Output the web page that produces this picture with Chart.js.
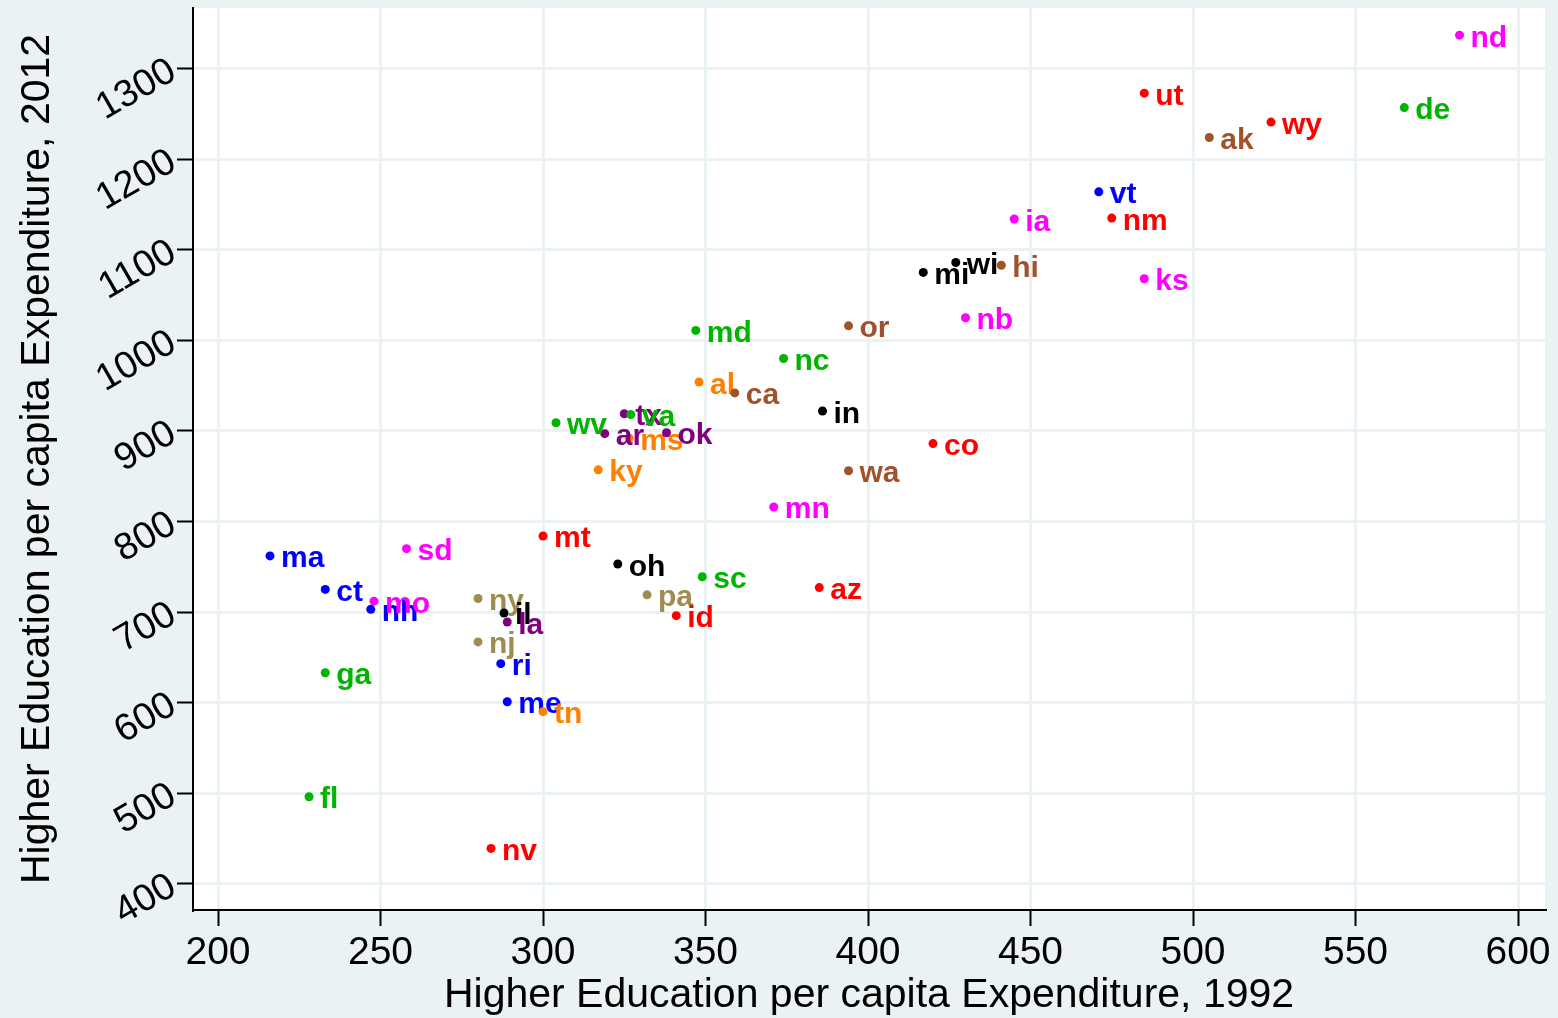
<!DOCTYPE html>
<html>
<head>
<meta charset="utf-8">
<script src="https://cdn.jsdelivr.net/npm/chart.js@4.4.0/dist/chart.umd.min.js"></script>
<style>
  html, body { margin: 0; padding: 0; background: #EAF2F3; }
  #wrap { width: 1558px; height: 1018px; }
</style>
</head>
<body>
<div id="wrap"><canvas id="c" width="1558" height="1018"></canvas></div>
<script>
// State abbreviations, per-capita higher education spending in 1992 and 2012,
// and census division (index into divisionNames / divisionColors).
const states = ['ak','al','ar','az','ca','co','ct','de','fl','ga',
                'hi','ia','id','il','in','ks','ky','la','ma','md',
                'me','mi','mn','mo','ms','mt','nc','nd','nb','nh',
                'nj','nm','nv','ny','oh','ok','or','pa','ri','sc',
                'sd','tn','tx','ut','va','vt','wa','wi','wv','wy'];
const spend1992 = [505,348,319,385,359,420,233,565,228,233,
                   441,445,341,288,386,485,317,289,216,347,
                   289,417,371,248,326.5,300,374,582,430,247,
                   280,475,284,280,323,338,394,332,287,349,
                   258,300,325,485,327,471,394,427,304,524];
const spend2012 = [1224,954,897,727,942,886,725,1257,496,633,
                   1083,1134,696,699,922,1068,857,689,762,1011,
                   601,1075,816,712,892,784,980,1337,1025,703,
                   667,1135,439,715,753,898,1016,719,643,739,
                   770,590,919,1273,918,1164,856,1086,909,1241];
const division  = [8,5,6,7,8,7,0,4,4,4,
                   8,3,7,2,2,3,5,6,0,4,
                   0,2,3,3,5,7,4,3,3,0,
                   1,7,7,1,2,6,8,1,0,4,
                   3,5,6,7,4,0,8,2,4,7];

const divisionNames  = ['New England','Middle Atlantic','East North Central','West North Central',
                        'South Atlantic','East South Central','West South Central','Mountain','Pacific'];
const divisionColors = ['#0000FF','#A08C50','#000000','#FF00FF',
                        '#00B400','#FF8000','#800080','#FF0000','#A0522D'];
// divisions are layered in this sequence (later ones on top)
const drawSequence = [0,1,2,3,5,6,4,7,8];

const xTicks = [200,250,300,350,400,450,500,550,600];
const xTickLabels = ['200','250','300','350','400','450','500','550','600'];
const yTicks = [400,500,600,700,800,900,1000,1100,1200,1300];
const yTickLabels = ['400','500','600','700','800','900','1000','1100','1200','1300'];

const xTitle = 'Higher Education per capita Expenditure, 1992';
const yTitle = 'Higher Education per capita Expenditure, 2012';

const FONT = '"Liberation Sans", Arial, Helvetica, sans-serif';

const datasets = drawSequence.map((d, k) => {
  const idx = states.map((s, i) => i).filter(i => division[i] === d);
  return {
    label: divisionNames[d],
    data: idx.map(i => ({ x: spend1992[i], y: spend2012[i] })),
    names: idx.map(i => states[i]),
    backgroundColor: divisionColors[d],
    borderWidth: 0,
    pointRadius: 4.5,
    order: drawSequence.length - k
  };
});

const backdrop = {
  id: 'backdrop',
  beforeDraw(chart) {
    const { ctx, chartArea: a } = chart;
    ctx.save();
    ctx.fillStyle = '#EAF2F3';
    ctx.fillRect(0, 0, chart.width, chart.height);
    ctx.fillStyle = '#FFFFFF';
    ctx.fillRect(a.left, a.top, a.right - a.left, a.bottom - a.top);
    ctx.restore();
  }
};

// marker labels drawn right after each dataset's markers
const stateLabels = {
  id: 'stateLabels',
  afterDatasetDraw(chart, args) {
    const ds = chart.data.datasets[args.index];
    const ctx = chart.ctx;
    ctx.save();
    ctx.font = 'bold 30px ' + FONT;
    ctx.fillStyle = ds.backgroundColor;
    ctx.textAlign = 'left';
    ctx.textBaseline = 'alphabetic';
    args.meta.data.forEach((pt, i) => {
      ctx.fillText(ds.names[i], pt.x + 11, pt.y + 11.5);
    });
    ctx.restore();
  }
};

function noEdgePadding(s) {
  s.paddingTop = 0; s.paddingBottom = 0; s.paddingLeft = 0; s.paddingRight = 0;
}

new Chart(document.getElementById('c'), {
  type: 'scatter',
  data: { datasets },
  plugins: [backdrop, stateLabels],
  options: {
    responsive: false,
    devicePixelRatio: 1,
    animation: false,
    events: [],
    layout: { padding: { top: 8, right: 13, left: 0, bottom: 0 } },
    plugins: { legend: { display: false }, tooltip: { enabled: false } },
    scales: {
      x: {
        type: 'linear',
        min: 192.3, max: 608.3,
        afterBuildTicks: s => { s.ticks = xTicks.map(v => ({ value: v })); },
        afterFit: s => { s.height = 108; noEdgePadding(s); },
        ticks: {
          autoSkip: false, maxRotation: 0, minRotation: 0,
          color: '#000', padding: 4,
          font: { family: FONT, size: 39 },
          callback: (v, i) => xTickLabels[i]
        },
        grid: { color: '#EAF2F3', lineWidth: 3, tickColor: '#000', tickWidth: 2, tickLength: 16 },
        border: { color: '#000', width: 2 },
        title: { display: true, text: xTitle, color: '#000',
                 font: { family: FONT, size: 41 }, padding: { top: 0, bottom: -2 } }
      },
      y: {
        type: 'linear',
        min: 371, max: 1367,
        afterBuildTicks: s => { s.ticks = yTicks.map(v => ({ value: v })); },
        afterFit: s => { s.width = 193; noEdgePadding(s); },
        ticks: {
          autoSkip: false, minRotation: 30, maxRotation: 30,
          color: '#000', padding: 4,
          font: { family: FONT, size: 38 },
          callback: (v, i) => yTickLabels[i]
        },
        grid: { color: '#EAF2F3', lineWidth: 3, tickColor: '#000', tickWidth: 2, tickLength: 16 },
        border: { color: '#000', width: 2 },
        title: { display: true, text: yTitle, color: '#000',
                 font: { family: FONT, size: 41 }, padding: { top: 13, bottom: 0 } }
      }
    }
  }
});
</script>
</body>
</html>
